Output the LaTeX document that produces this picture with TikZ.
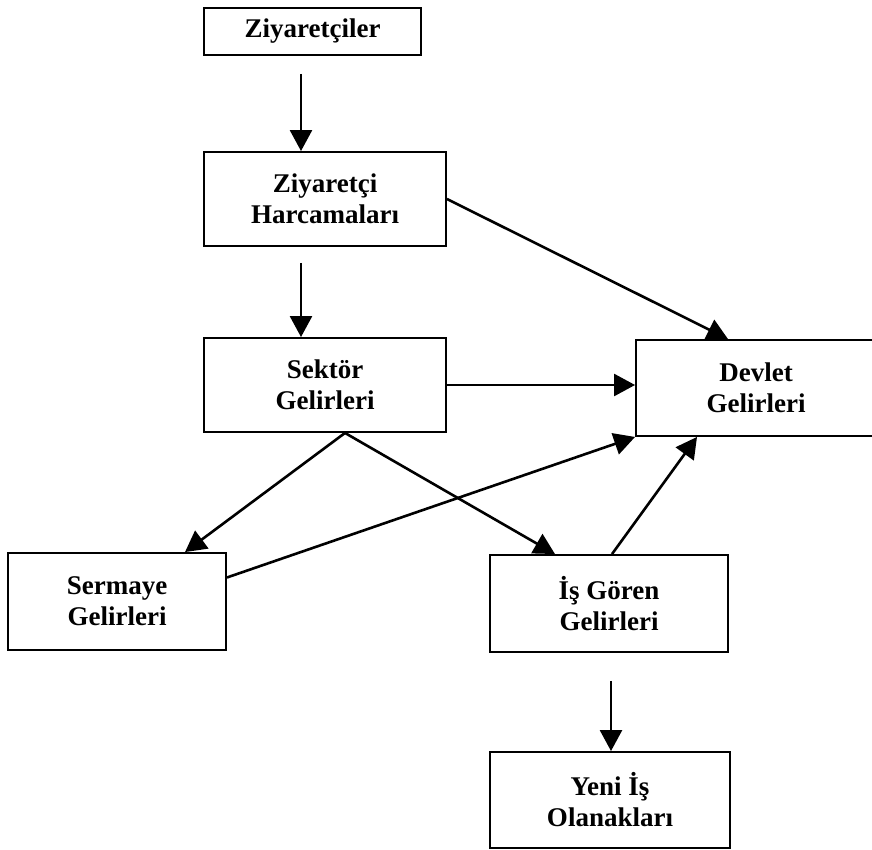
\documentclass[tikz,border=0pt]{standalone}
\usepackage{fontspec}
\setmainfont{Liberation Serif}
\usepackage{tikz}
\usetikzlibrary{arrows.meta}
\tikzstyle{block} = [rectangle, draw=black, line width=1.9pt, align=center, font=\bfseries\fontsize{27}{31}\selectfont, minimum width=240pt, minimum height=96pt]
\tikzstyle{arrow} = [line width=2.6pt, -{Triangle[length=21pt,width=22pt]}]

\begin{document}
\begin{tikzpicture}[x=1pt,y=-1pt]
                \useasboundingbox (0,0) rectangle (872,850);
                % Nodes
                \node (ziyaret) [block, minimum width=217pt, minimum height=47pt] at (312.5,31.5) {Ziyaretçiler};
                \node (harcama) [block, minimum width=242pt, minimum height=94pt] at (325,199) {Ziyaretçi\\Harcamaları};
                \node (sektor) [block, minimum width=242pt, minimum height=94pt] at (325,385) {Sektör\\Gelirleri};
                \node (devlet) [block, minimum width=240pt] at (756,388) {Devlet\\Gelirleri};
                \node (sermaye) [block, minimum width=218pt, minimum height=97pt] at (117,601.5) {Sermaye\\Gelirleri};
                \node (isgoren) [block, minimum width=238pt, minimum height=97pt] at (609,603.5) {İş Gören\\Gelirleri};
                \node (yeniis) [block] at (610,800) {Yeni İş\\Olanakları};

                % Arrows
                \draw [arrow, shorten <=18pt] ([xshift=-11.5pt]ziyaret.south) -- ([xshift=-24pt]harcama.north);
                \draw [arrow, shorten <=16pt] ([xshift=-24pt]harcama.south) -- ([xshift=-24pt]sektor.north);
                \draw [arrow] (harcama.east) -- ([xshift=-28pt]devlet.north);
                \draw [arrow] (sektor.east) -- (sektor.east -| devlet.west);
                \draw [arrow] ([xshift=20pt]sektor.south) -- ([xshift=68pt]sermaye.north);
                \draw [arrow] ([xshift=20pt]sektor.south) -- ([xshift=-54pt]isgoren.north);
                \draw [arrow] ([yshift=24pt]sermaye.east) -- (devlet.south west);
                \draw [arrow] ([xshift=3pt]isgoren.north) -- ([xshift=-59pt]devlet.south);
                \draw [arrow, shorten <=28pt] ([xshift=2pt]isgoren.south) -- ([xshift=1pt]yeniis.north);
            \end{tikzpicture}
\end{document}
